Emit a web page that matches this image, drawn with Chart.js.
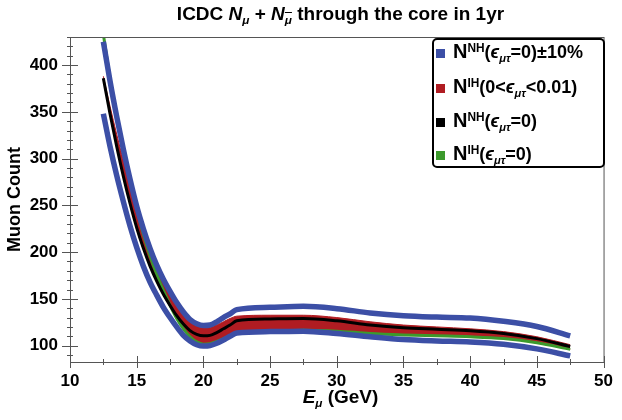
<!DOCTYPE html>
<html>
<head>
<meta charset="utf-8">
<script src="https://cdn.jsdelivr.net/npm/chart.js@4.4.0/dist/chart.umd.min.js"></script>
<style>
  body { margin: 0; background: #fff; font-family: "Liberation Sans", Arial, sans-serif; }
  #wrap { position: relative; width: 622px; height: 420px; }
  canvas { position: absolute; left: 0; top: 0; }
  #title { position: absolute; left: 70px; width: 541px; top: 3px; line-height: 22px; text-align: center; font-weight: bold; font-size: 19px; }
  #xtitle { position: absolute; left: 70px; width: 541px; top: 386px; line-height: 22px; text-align: center; font-weight: bold; font-size: 19px; }
  sub { font-size: 0.62em; vertical-align: baseline; position: relative; top: 0.35em; }
  sup { font-size: 0.66em; vertical-align: baseline; position: relative; top: -0.5em; }
  .ov { text-decoration: overline; }
  #legend { position: absolute; left: 432px; top: 38px; width: 173px; height: 130px; box-sizing: border-box;
            border: 2px solid #000; border-radius: 5px; background: #fff; }
  .row { position: absolute; left: 2px; height: 24px; line-height: 24px; white-space: nowrap;
         font-weight: bold; font-size: 18px; }
  .sw { display: inline-block; width: 9px; height: 9px; margin-right: 8px; vertical-align: baseline; }
  .big { font-size: 20px; }
</style>
</head>
<body>
<div id="wrap">
  <canvas id="chart" width="622" height="420"></canvas>
  <div id="title">ICDC <i>N</i><sub><i>μ</i></sub> + <i>N</i><sub><i class="ov">μ</i></sub> through the core in 1yr</div>
  <div id="xtitle"><i>E</i><sub><i>μ</i></sub> (GeV)</div>
  <div id="legend">
    <div class="row" style="top:-1px"><span class="sw" style="background:#3c4fa6"></span><span class="big">N</span><sup>NH</sup>(<i>ϵ</i><sub><i>μτ</i></sub>=0)±10%</div>
    <div class="row" style="top:34px"><span class="sw" style="background:#b01c22"></span><span class="big">N</span><sup>IH</sup>(0&lt;<i>ϵ</i><sub><i>μτ</i></sub>&lt;0.01)</div>
    <div class="row" style="top:68px"><span class="sw" style="background:#000"></span><span class="big">N</span><sup>NH</sup>(<i>ϵ</i><sub><i>μτ</i></sub>=0)</div>
    <div class="row" style="top:101px"><span class="sw" style="background:#3c9a2c"></span><span class="big">N</span><sup>IH</sup>(<i>ϵ</i><sub><i>μτ</i></sub>=0)</div>
  </div>
</div>
<script>
// muon energy (GeV)
const energy = [12.5, 13, 13.5, 14, 14.5, 15, 15.5, 16, 16.5, 17, 17.5, 18, 18.5, 19, 19.5, 20,
  20.5, 21, 21.5, 22, 22.5, 25, 27.5, 30, 32.5, 35, 37.5, 40, 42.5, 45, 47.5];

// N^NH (eps = 0)
const nhZero = [386, 348, 313, 281, 252, 226, 204, 185, 169, 155, 143, 132, 123, 116, 112, 110.5,
  111, 114, 118, 122, 126.5, 128.5, 129, 126.5, 122, 119, 117.5, 116, 113, 107.5, 99];
// N^NH (eps = 0) +10% / -10%
const nhPlus = [425, 383, 345, 310, 278, 249, 225, 204, 186, 171, 158, 146, 136, 128, 123.5, 121.5,
  122, 125.5, 130, 134, 138.5, 141, 142, 139.5, 135, 132, 130.5, 129.5, 126, 120.5, 110.5];
const nhMinus = [348, 313, 282, 254, 228, 205, 185, 168, 154, 141, 130, 120, 111, 105, 101, 99.5,
  100, 102.5, 106, 110, 113.5, 115, 115.5, 113, 109.5, 106.5, 105, 104, 101.5, 96.5, 89];
// N^IH (eps = 0)
const ihZero = [433, 386, 345, 309, 276, 246, 219, 196, 176, 159, 143, 129, 118, 109.5, 104, 101.5,
  102, 104.5, 107.5, 110.5, 113.5, 115.5, 116.5, 115.5, 113, 111.5, 110.5, 109.5, 107.5, 103, 96];
// N^IH (0 < eps < 0.01) band edges
const ihBandLow = [386, 348, 313, 281, 252, 226, 204, 185, 169, 155, 143, 129, 118, 109.5, 104, 101.5,
  102, 104.5, 107.5, 110.5, 113.5, 115.5, 116.5, 115.5, 113, 111.5, 110.5, 109.5, 107.5, 103, 96];
const ihBandHigh = [388, 356, 326, 298, 271, 246, 222, 202, 185, 170, 157, 145, 135, 127.5, 122, 119,
  119.5, 122, 125.5, 129, 131.5, 132.5, 132.5, 130, 125.5, 122, 120, 118, 115, 109.5, 101];

const xMajor = [10, 15, 20, 25, 30, 35, 40, 45, 50];
const xMinor = [12.5, 17.5, 22.5, 27.5, 32.5, 37.5, 42.5, 47.5];
const yMajor = [100, 150, 200, 250, 300, 350, 400];
const yMinor = [90, 110, 120, 130, 140, 160, 170, 180, 190, 210, 220, 230, 240, 260, 270, 280, 290,
  310, 320, 330, 340, 360, 370, 380, 390, 410, 420, 430];

const BLUE = '#3c4fa6';
const RED = '#b01c22';
const GREEN = '#3c9a2c';

function pts(arr) {
  return energy.map((e, i) => ({ x: e, y: arr[i] }));
}

function curve(data, color, width, order) {
  return {
    data: pts(data),
    borderColor: color,
    borderWidth: width,
    pointRadius: 0,
    cubicInterpolationMode: 'monotone',
    fill: false,
    order: order,
  };
}

const frameTicks = {
  id: 'frameTicks',
  afterDraw(chart) {
    const { ctx, chartArea: a, scales: { x, y } } = chart;
    ctx.save();
    ctx.strokeStyle = '#555';
    ctx.lineWidth = 1;
    ctx.strokeRect(a.left + 0.5, a.top + 0.5, a.right - a.left, a.bottom - a.top);
    ctx.beginPath();
    const hy = (v, len) => {
      const p = Math.round(y.getPixelForValue(v)) + 0.5;
      ctx.moveTo(a.left - len, p);
      ctx.lineTo(a.left + len, p);
    };
    const vx = (v, len) => {
      const p = Math.round(x.getPixelForValue(v)) + 0.5;
      ctx.moveTo(p, a.bottom - len);
      ctx.lineTo(p, a.bottom + len);
    };
    yMajor.forEach(v => hy(v, 8));
    yMinor.forEach(v => hy(v, 3));
    xMajor.forEach(v => vx(v, 6));
    xMinor.forEach(v => vx(v, 3));
    ctx.stroke();
    ctx.restore();
  }
};

const tickFont = { family: '"Liberation Sans", Arial, sans-serif', size: 17, weight: 'bold' };

new Chart(document.getElementById('chart'), {
  type: 'line',
  data: {
    datasets: [
      curve(nhPlus, BLUE, 5.5, 0),
      curve(nhMinus, BLUE, 5.5, 1),
      curve(nhZero, '#000', 3, 2),
      curve(ihZero, GREEN, 3, 3),
      { ...curve(ihBandLow, RED, 1, 4) },
      { ...curve(ihBandHigh, RED, 1, 5), fill: '-1', backgroundColor: RED },
    ],
  },
  options: {
    responsive: false,
    animation: false,
    layout: { padding: { top: 37, right: 11, left: 0, bottom: 0 } },
    plugins: {
      legend: { display: false },
      tooltip: { enabled: false },
    },
    scales: {
      x: {
        type: 'linear',
        min: 10,
        max: 50,
        afterBuildTicks(s) { s.ticks = xMajor.map(v => ({ value: v })); },
        afterFit(s) { s.height = 58; },
        grid: { display: false, drawTicks: false },
        border: { display: false },
        ticks: { color: '#000', font: tickFont, padding: 9 },
      },
      y: {
        type: 'linear',
        min: 82.5,
        max: 430,
        afterBuildTicks(s) { s.ticks = yMajor.map(v => ({ value: v })); },
        afterFit(s) { s.width = 70; },
        grid: { display: false, drawTicks: false },
        border: { display: false },
        ticks: { color: '#000', font: tickFont, padding: 12 },
        title: {
          display: true,
          text: 'Muon Count',
          color: '#000',
          font: { family: '"Liberation Sans", Arial, sans-serif', size: 18, weight: 'bold' },
          padding: { top: 4, bottom: 0 },
        },
      },
    },
  },
  plugins: [frameTicks],
});
</script>
</body>
</html>
